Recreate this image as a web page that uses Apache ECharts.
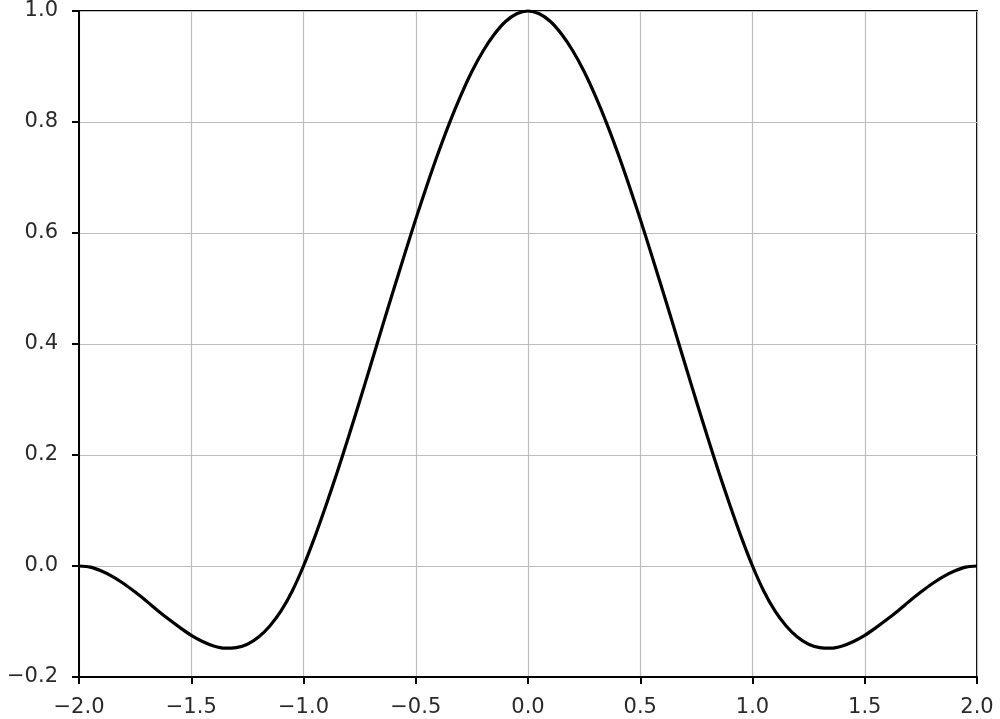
<!DOCTYPE html>
<html><head><meta charset="utf-8">
<script src="https://cdn.jsdelivr.net/npm/echarts@6/dist/echarts.min.js"></script>
<style>html,body{margin:0;padding:0;background:#fff}#c{width:1000px;height:719px}</style>
</head><body><div id="c"></div>
<script>
const xValues = [-2.0,-1.95,-1.9,-1.85,-1.8,-1.75,-1.7,-1.65,-1.6,-1.55,-1.5,-1.45,-1.4,-1.35,-1.3,-1.25,-1.2,-1.15,-1.1,-1.05,-1.0,-0.95,-0.9,-0.85,-0.8,-0.75,-0.7,-0.65,-0.6,-0.55,-0.5,-0.45,-0.4,-0.35,-0.3,-0.25,-0.2,-0.15,-0.1,-0.05,0.0,0.05,0.1,0.15,0.2,0.25,0.3,0.35,0.4,0.45,0.5,0.55,0.6,0.65,0.7,0.75,0.8,0.85,0.9,0.95,1.0,1.05,1.1,1.15,1.2,1.25,1.3,1.35,1.4,1.45,1.5,1.55,1.6,1.65,1.7,1.75,1.8,1.85,1.9,1.95,2.0];
const yValues = [0.0,-0.002,-0.009,-0.019,-0.032,-0.047,-0.063,-0.080,-0.096,-0.111,-0.125,-0.136,-0.144,-0.148,-0.147,-0.141,-0.128,-0.108,-0.081,-0.045,0.0,0.052,0.109,0.169,0.232,0.297,0.363,0.430,0.496,0.561,0.625,0.686,0.744,0.798,0.847,0.891,0.928,0.958,0.981,0.995,1.0,0.995,0.981,0.958,0.928,0.891,0.847,0.798,0.744,0.686,0.625,0.561,0.496,0.430,0.363,0.297,0.232,0.169,0.109,0.052,0.0,-0.045,-0.081,-0.108,-0.128,-0.141,-0.147,-0.148,-0.144,-0.136,-0.125,-0.111,-0.096,-0.080,-0.063,-0.047,-0.032,-0.019,-0.009,-0.002,0.0];
const xTicks = [-2.0,-1.5,-1.0,-0.5,0.0,0.5,1.0,1.5,2.0];
const yTicks = [-0.2,0.0,0.2,0.4,0.6,0.8,1.0];

const fmt = v => (v < 0 ? '\u2212' : '') + Math.abs(v).toFixed(1);
const chart = echarts.init(document.getElementById('c'), null, {renderer:'canvas'});
chart.setOption({
  animation:false,
  grid:{left:79,right:23,top:11,bottom:42,show:true,borderColor:'#000',borderWidth:2,backgroundColor:'#fff'},
  xAxis:{type:'value',min:xTicks[0],max:xTicks[xTicks.length-1],interval:0.5,
    axisLine:{show:true,onZero:false,lineStyle:{color:'#000',width:2}},
    axisTick:{show:true,length:7,inside:false,lineStyle:{color:'#000',width:2}},
    axisLabel:{formatter:fmt,color:'#2a2a2a',fontSize:21,fontFamily:'DejaVu Sans',margin:20,showMinLabel:true,showMaxLabel:true},
    splitLine:{show:true,lineStyle:{color:'#bdbdbd',width:1.2}}},
  yAxis:{type:'value',min:yTicks[0],max:yTicks[yTicks.length-1],interval:0.2,
    axisLine:{show:true,onZero:false,lineStyle:{color:'#000',width:2}},
    axisTick:{show:true,length:7,inside:false,lineStyle:{color:'#000',width:2}},
    axisLabel:{formatter:fmt,color:'#2a2a2a',fontSize:21,fontFamily:'DejaVu Sans',margin:21},
    splitLine:{show:true,lineStyle:{color:'#bdbdbd',width:1.2}}},
  series:[{type:'line',data:xValues.map((x,i)=>[x,yValues[i]]),showSymbol:false,smooth:0.3,clip:false,
    lineStyle:{color:'#000',width:3.2}}]
});
</script></body></html>
